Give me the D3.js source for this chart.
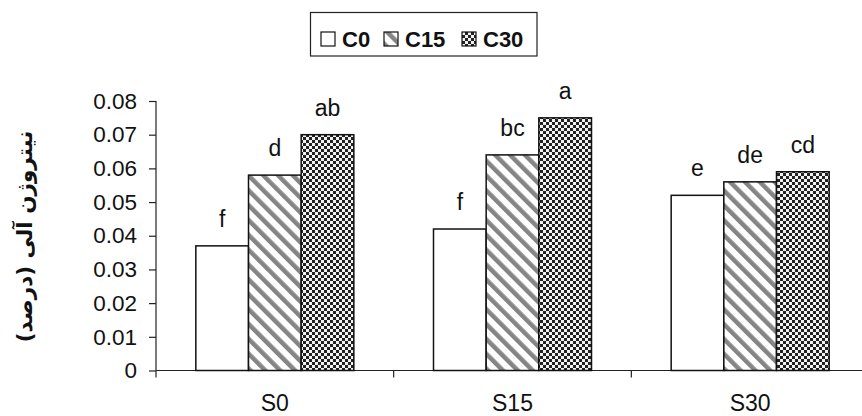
<!DOCTYPE html>
<html>
<head>
<meta charset="utf-8">
<script src="https://cdn.jsdelivr.net/npm/d3@7"></script>
<style>
  body { margin: 0; background: #fff; }
  svg { display: block; }
  .axis text { font-family: "Liberation Sans", Arial, sans-serif; fill: #111; }
  .y.axis text { font-size: 22.5px; }
  .x.axis text { font-size: 23px; }
  .axis path, .axis line { stroke: #222; stroke-width: 1.2; }
</style>
</head>
<body>
<script>

    var margin = {top: 101, right: 0, bottom: 45.5, left: 156};
    var W = 862, H = 416;
    var width = 713,
        height = H - margin.top - margin.bottom;

    // data
    var categories = ["S0", "S15", "S30"];
    var series = ["C0", "C15", "C30"];
    var C0  = [0.037, 0.042, 0.052];
    var C15 = [0.058, 0.064, 0.056];
    var C30 = [0.070, 0.075, 0.059];
    var letters = {
        C0:  ["f", "f", "e"],
        C15: ["d", "bc", "de"],
        C30: ["ab", "a", "cd"]
    };
    var yTicks = [0, 0.01, 0.02, 0.03, 0.04, 0.05, 0.06, 0.07, 0.08];
    var yTitle = "نیتروژن آلی (درصد)";

    var values = {C0: C0, C15: C15, C30: C30};
    var data = [];
    categories.forEach(function(c, i) {
        series.forEach(function(s) {
            data.push({cat: c, key: s, value: values[s][i], label: letters[s][i]});
        });
    });

    var svg = d3.select("body")
    .append("svg")
    .attr("width", W)
    .attr("height", H);

    // patterns
    var defs = svg.append("defs");
    var stripes = defs.append("pattern")
    .attr("id", "stripes")
    .attr("patternUnits", "userSpaceOnUse")
    .attr("width", 10.5)
    .attr("height", 10.5)
    .attr("patternTransform", "rotate(-45)");
    stripes.append("rect").attr("width", 10.5).attr("height", 10.5).attr("fill", "#fff");
    stripes.append("rect").attr("width", 4.5).attr("height", 10.5).attr("fill", "#858585");

    var checks = defs.append("pattern")
    .attr("id", "checks")
    .attr("patternUnits", "userSpaceOnUse")
    .attr("width", 6)
    .attr("height", 6);
    checks.append("rect").attr("width", 6).attr("height", 6).attr("fill", "#222");
    checks.append("rect").attr("width", 3).attr("height", 3).attr("fill", "#f2f2f2");
    checks.append("rect").attr("x", 3).attr("y", 3).attr("width", 3).attr("height", 3).attr("fill", "#f2f2f2");

    var fills = {C0: "#fff", C15: "url(#stripes)", C30: "url(#checks)"};

    var g = svg.append("g")
    .attr("transform", "translate(" + margin.left + "," + margin.top + ")");

    var x0 = d3.scaleBand()
    .domain(categories)
    .range([0, width])
    .padding(0);

    var groupW = 158;
    var x1 = d3.scaleBand()
    .domain(series)
    .range([0, groupW]);

    var y = d3.scaleLinear()
    .domain([0, 0.08])
    .range([height, 0]);

    var yAxis = d3.axisLeft(y)
    .tickValues(yTicks)
    .tickSize(7)
    .tickPadding(12)
    .tickFormat(function(d) { return d === 0 ? "0" : d3.format(".2f")(d); });

    g.append("g")
    .attr("class", "y axis")
    .call(yAxis)
    .call(function(a) { a.select(".domain").attr("d", "M0,0V" + height); });

    var xAxis = d3.axisBottom(x0)
    .tickSize(0)
    .tickPadding(24);

    var xa = g.append("g")
    .attr("class", "x axis")
    .attr("transform", "translate(0," + height + ")")
    .call(xAxis);
    xa.select(".domain").attr("d", "M0,0H" + width);

    // x ticks sit between the categories
    xa.selectAll(".sep")
    .data(categories)
    .enter().append("line")
    .attr("class", "sep")
    .attr("x1", function(d) { return x0(d); })
    .attr("x2", function(d) { return x0(d); })
    .attr("y1", 0)
    .attr("y2", 7);

    var off = (x0.bandwidth() - groupW) / 2;

    g.selectAll("rect.bar")
    .data(data)
    .enter().append("rect")
    .attr("class", "bar")
    .attr("x", function(d) { return x0(d.cat) + off + x1(d.key); })
    .attr("y", function(d) { return y(d.value); })
    .attr("width", x1.bandwidth())
    .attr("height", function(d) { return height - y(d.value); })
    .attr("fill", function(d) { return fills[d.key]; })
    .attr("stroke", "#111")
    .attr("stroke-width", 1.5);

    g.selectAll("text.lbl")
    .data(data)
    .enter().append("text")
    .attr("class", "lbl")
    .attr("x", function(d) { return x0(d.cat) + off + x1(d.key) + x1.bandwidth() / 2; })
    .attr("y", function(d) { return y(d.value) - 19; })
    .attr("text-anchor", "middle")
    .attr("font-family", "Liberation Sans, Arial, sans-serif")
    .attr("font-size", 23)
    .attr("fill", "#111")
    .text(function(d) { return d.label; });

    // y title
    svg.append("text")
    .attr("transform", "translate(32,236.5) rotate(-90)")
    .attr("text-anchor", "middle")
    .attr("font-family", "DejaVu Sans, sans-serif")
    .attr("font-weight", "bold")
    .attr("font-size", 21.5)
    .attr("fill", "#111")
    .text(yTitle);

    // legend
    var legend = svg.append("g").attr("class", "legend");
    legend.append("rect")
    .attr("x", 310.5)
    .attr("y", 12.5)
    .attr("width", 226.5)
    .attr("height", 43.5)
    .attr("fill", "#fff")
    .attr("stroke", "#222")
    .attr("stroke-width", 1.2);

    var legX = [321, 384, 462];
    var items = legend.selectAll("g.item")
    .data(series)
    .enter().append("g")
    .attr("class", "item")
    .attr("transform", function(d, i) { return "translate(" + legX[i] + ",32)"; });

    items.append("rect")
    .attr("width", 14)
    .attr("height", 14)
    .attr("fill", function(d) { return fills[d]; })
    .attr("stroke", "#111")
    .attr("stroke-width", 1.2);

    items.append("text")
    .attr("x", 21)
    .attr("y", 15)
    .attr("font-family", "Liberation Sans, Arial, sans-serif")
    .attr("font-weight", "bold")
    .attr("font-size", 22)
    .attr("fill", "#111")
    .text(function(d) { return d; });

</script>
</body>
</html>
